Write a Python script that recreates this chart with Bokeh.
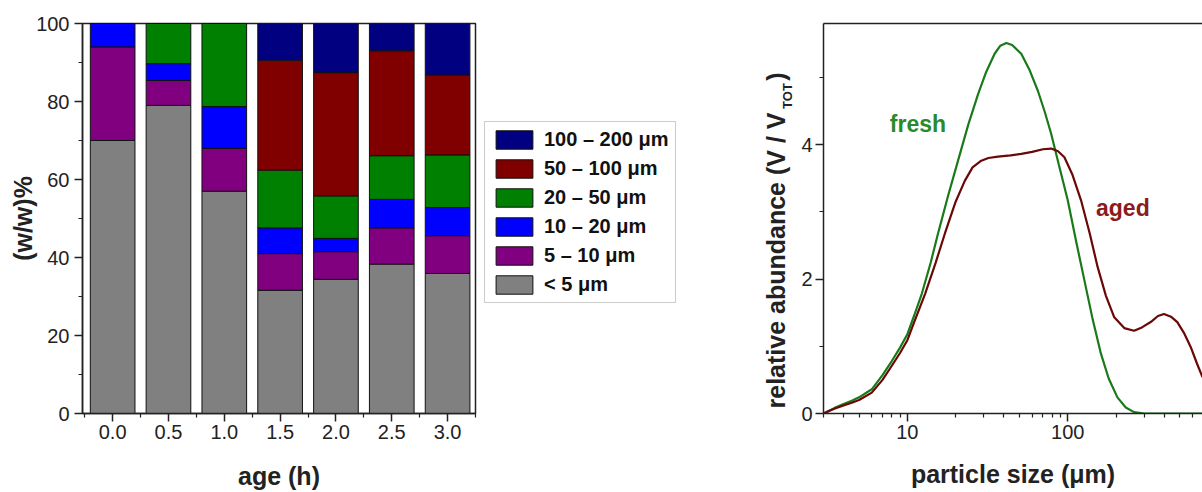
import math
from bokeh.plotting import figure
from bokeh.layouts import row
from bokeh.models import (FixedTicker, PrintfTickFormatter, Legend, LegendItem, Label,
                          LogAxis, Range1d, ColumnDataSource)
from bokeh.embed import file_html
from bokeh.resources import INLINE

# ---------------- data: left (stacked bars) ----------------
ages = [0.0, 0.5, 1.0, 1.5, 2.0, 2.5, 3.0]
lt5 = [70.0, 79.0, 57.0, 31.6, 34.4, 38.3, 35.9]
s5_10 = [24.0, 6.4, 11.0, 9.4, 7.1, 9.3, 9.7]
s10_20 = [6.0, 4.3, 10.7, 6.6, 3.4, 7.3, 7.2]
s20_50 = [0.0, 10.3, 21.3, 14.8, 10.9, 11.2, 13.5]
s50_100 = [0.0, 0.0, 0.0, 28.2, 31.6, 26.9, 20.5]
s100_200 = [0.0, 0.0, 0.0, 9.4, 12.6, 7.0, 13.2]
class_labels = ["< 5 μm", "5 – 10 μm", "10 – 20 μm", "20 – 50 μm", "50 – 100 μm", "100 – 200 μm"]
class_colors = ["#808080", "#800080", "#0000FF", "#008000", "#800000", "#000080"]
y_ticks_left = [0, 20, 40, 60, 80, 100]
x_ticks_left = [0.0, 0.5, 1.0, 1.5, 2.0, 2.5, 3.0]

# ---------------- data: right (size distributions) ----------------
size_fresh = [3.0, 3.5, 4.0, 4.5, 5.0, 6.0, 7.0, 8.0, 9.0, 10, 11, 12.3, 14, 15.5, 18, 20.7, 24,
              27.6, 31, 35, 38, 41.4, 45, 51.3, 58, 65.1, 72, 78.8, 88, 100, 113, 127, 143,
              161, 180, 204, 230, 259, 300, 700]
abund_fresh = [0.0, 0.08, 0.14, 0.19, 0.24, 0.36, 0.57, 0.78, 0.98, 1.18, 1.45, 1.78, 2.25, 2.67,
               3.25, 3.76, 4.30, 4.75, 5.08, 5.35, 5.47, 5.51, 5.48, 5.35, 5.10, 4.80, 4.48, 4.16,
               3.70, 3.17, 2.55, 1.98, 1.40, 0.89, 0.52, 0.24, 0.09, 0.02, 0.0, 0.0]
size_aged = [3.0, 3.5, 4.0, 4.5, 5.0, 6.0, 7.0, 8.0, 9.0, 10, 11, 12.9, 15, 17.1, 20, 22.8, 25.5,
             28.9, 32, 36.7, 44, 51.3, 60, 70, 78.8, 87, 95.3, 107, 121, 137, 153.5, 173, 195,
             225, 259, 290, 329, 365, 398, 440, 482, 530, 584, 640, 692]
abund_aged = [0.0, 0.07, 0.12, 0.16, 0.20, 0.31, 0.50, 0.71, 0.90, 1.09, 1.35, 1.78, 2.24, 2.67,
              3.15, 3.46, 3.66, 3.76, 3.80, 3.82, 3.84, 3.86, 3.89, 3.93, 3.94, 3.90, 3.81, 3.55,
              3.17, 2.68, 2.18, 1.75, 1.43, 1.27, 1.23, 1.28, 1.36, 1.45, 1.48, 1.44, 1.36, 1.20,
              0.99, 0.74, 0.54]

FONT = "Liberation Sans"
DARK = "#222222"


def style_axis(ax, size="20px"):
    ax.axis_line_color = DARK
    ax.axis_line_width = 1.5
    ax.major_tick_line_color = DARK
    ax.minor_tick_line_color = DARK
    ax.major_tick_line_width = 1.5
    ax.minor_tick_line_width = 1.2
    ax.major_tick_out = 8
    ax.major_tick_in = 0
    ax.minor_tick_out = 4
    ax.minor_tick_in = 0
    ax.major_label_text_font = FONT
    ax.major_label_text_font_size = size
    ax.major_label_text_color = DARK
    ax.axis_label_text_font = FONT
    ax.axis_label_text_font_size = "25px"
    ax.axis_label_text_font_style = "bold"
    ax.axis_label_text_color = DARK


def bare(fig):
    fig.outline_line_color = None
    fig.xgrid.grid_line_color = None
    fig.ygrid.grid_line_color = None


stackers = ["c0", "c1", "c2", "c3", "c4", "c5"]
src = ColumnDataSource(dict(age=ages, c0=lt5, c1=s5_10, c2=s10_20, c3=s20_50, c4=s50_100, c5=s100_200))

# ---------------- left figure (stacked bars) ----------------
p1 = figure(width=480, height=492, output_backend="svg", toolbar_location=None,
            x_range=Range1d(-0.27, 3.25), y_range=Range1d(0, 100),
            min_border_left=82, min_border_right=5, min_border_top=23, min_border_bottom=79)
p1.vbar_stack(stackers, x="age", width=0.4, source=src,
              fill_color=class_colors, line_color="#111111", line_width=1)
p1.xgrid.grid_line_color = None
p1.ygrid.grid_line_color = None
p1.outline_line_color = DARK
p1.outline_line_width = 1.5
p1.xaxis.ticker = FixedTicker(ticks=x_ticks_left,
                              minor_ticks=[-0.25, 0.25, 0.75, 1.25, 1.75, 2.25, 2.75, 3.25])
p1.xaxis.formatter = PrintfTickFormatter(format="%.1f")
p1.yaxis.ticker = FixedTicker(ticks=y_ticks_left, minor_ticks=[10, 30, 50, 70, 90])
style_axis(p1.xaxis[0])
style_axis(p1.yaxis[0])
p1.xaxis.major_label_standoff = 3
p1.yaxis.major_label_standoff = 5
p1.xaxis.axis_label = "age (h)"
p1.yaxis.axis_label = "(w/w)%"
p1.xaxis.axis_label_standoff = 20
p1.yaxis.axis_label_standoff = -4

# ---------------- legend figure (legend of the stacked bars) ----------------
p_leg = figure(width=203, height=492, output_backend="svg", toolbar_location=None,
               x_range=Range1d(-0.27, 3.25), y_range=Range1d(0, 100),
               x_axis_location=None, y_axis_location=None,
               min_border_left=0, min_border_right=0, min_border_top=23, min_border_bottom=79)
bare(p_leg)
rs_leg = p_leg.vbar_stack(stackers, x="age", width=0.4, source=src,
                          fill_color=class_colors, line_color="#111111", line_width=1)
for r in rs_leg:
    r.visible = False
items = [LegendItem(label=class_labels[i], renderers=[rs_leg[i]]) for i in reversed(range(6))]
legend = Legend(items=items, location=(4, 110), margin=0, padding=6, spacing=6,
                glyph_width=46, glyph_height=23, label_standoff=7, label_height=23,
                label_text_font=FONT, label_text_font_size="20px", label_text_font_style="bold",
                label_text_color="#111111", border_line_color="#999999", border_line_width=1.5,
                background_fill_color="white", background_fill_alpha=1.0)
p_leg.add_layout(legend)

# ---------------- narrow figure holding the right panel's y-axis title ----------------
p_lab = figure(width=115, height=492, output_backend="svg", toolbar_location=None,
               x_range=Range1d(0, 115), y_range=Range1d(0, 5.8),
               x_axis_location=None, y_axis_location=None,
               min_border_left=0, min_border_right=0, min_border_top=23, min_border_bottom=79)
bare(p_lab)
common = dict(angle=math.pi / 2, text_font=FONT, text_font_style="bold", text_color=DARK,
              text_baseline="alphabetic")
p_lab.add_layout(Label(x=92, y=4.476, text="relative abundance (V / V", text_align="right",
                       text_font_size="25px", **common))
p_lab.add_layout(Label(x=104, y=4.53, text="TOT", text_align="left", text_font_size="13px", **common))
p_lab.add_layout(Label(x=92, y=4.95, text=")", text_align="left", text_font_size="25px", **common))

# ---------------- right figure (size distributions) ----------------
p2 = figure(width=404, height=492, output_backend="svg", toolbar_location=None,
            x_axis_type="log", x_range=Range1d(3, 692), y_range=Range1d(0, 5.8),
            min_border_left=24, min_border_right=0, min_border_top=23, min_border_bottom=79)
p2.line(size_fresh, abund_fresh, line_color="#1a7a1a", line_width=2.2)
p2.line(size_aged, abund_aged, line_color="#6a0808", line_width=2.2)
p2.xgrid.grid_line_color = None
p2.ygrid.grid_line_color = None
p2.outline_line_color = None
p2.xaxis.ticker = FixedTicker(ticks=[10, 100, 1000],
                              minor_ticks=[3, 4, 5, 6, 7, 8, 9, 20, 30, 40, 50, 60, 70, 80, 90,
                                           200, 300, 400, 500, 600, 700, 800, 900])
p2.xaxis.formatter = PrintfTickFormatter(format="%d")
p2.yaxis.ticker = FixedTicker(ticks=[0, 2, 4], minor_ticks=[1, 3, 5])
style_axis(p2.xaxis[0])
style_axis(p2.yaxis[0])
p2.xaxis.major_label_standoff = 3
p2.yaxis.major_label_standoff = 3
p2.xaxis.axis_label = "particle size (μm)"
p2.xaxis.axis_label_standoff = 18

top_ax = LogAxis(axis_line_color=DARK, axis_line_width=1.5, major_tick_line_color=None,
                 minor_tick_line_color=None, major_label_text_font_size="0px",
                 ticker=FixedTicker(ticks=[]))
p2.add_layout(top_ax, "above")

p2.add_layout(Label(x=7.77, y=4.31, text="fresh", text_font=FONT, text_font_style="bold",
                    text_font_size="23px", text_color="#2a8a2a", text_baseline="alphabetic"))
p2.add_layout(Label(x=150, y=3.06, text="aged", text_font=FONT, text_font_style="bold",
                    text_font_size="23px", text_color="#8b1c1c", text_baseline="alphabetic"))

layout = row(p1, p_leg, p_lab, p2)
open("out.html", "w").write(file_html(layout, INLINE))
